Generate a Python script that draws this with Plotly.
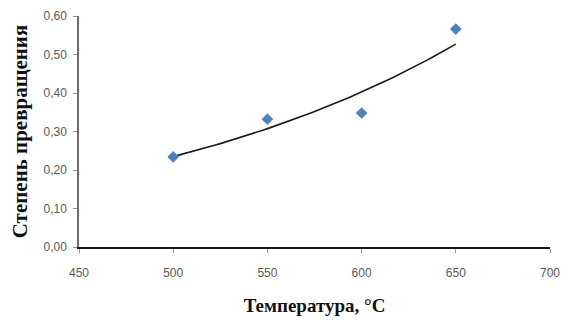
import numpy as np
import plotly.graph_objects as go

temperature = [500, 550, 600, 650]
conversion = [0.234, 0.332, 0.348, 0.566]
x_ticks = [450, 500, 550, 600, 650, 700]
y_ticks = [0.0, 0.1, 0.2, 0.3, 0.4, 0.5, 0.6]

# exponential trendline fitted from data (as in Excel)
b, ln_a = np.polyfit(temperature, np.log(conversion), 1)
xt = np.linspace(min(temperature), max(temperature), 60)
yt = np.exp(ln_a + b * xt)

fig = go.Figure()
fig.add_trace(go.Scatter(x=xt, y=yt, mode="lines",
                         line=dict(color="#1a1a1a", width=1.6), hoverinfo="skip"))
fig.add_trace(go.Scatter(x=temperature, y=conversion, mode="markers",
                         marker=dict(symbol="diamond", size=9, color="#4F81BD")))

# page body has an 8px margin, so the figure is sized 562x312
fig.update_layout(
    width=562, height=312,
    margin=dict(l=71, r=20, t=8, b=73),
    paper_bgcolor="white", plot_bgcolor="white",
    showlegend=False,
    separators=", ",
    font=dict(family="Liberation Sans, Arial, sans-serif", size=12, color="#595959"),
)
fig.update_xaxes(
    range=[450, 700], tickvals=x_ticks, showgrid=False, zeroline=False,
    showline=True, linecolor="#1a1a1a", linewidth=1.5,
    ticks="outside", ticklen=4, tickcolor="#9a9a9a",
    tickfont=dict(size=12, color="#595959"), ticklabelstandoff=10,
    automargin=False,
    title=dict(text="Температура, °C", standoff=20,
               font=dict(family="Liberation Serif, Times New Roman, serif", size=19,
                         color="#111111", weight="bold")),
)
fig.update_yaxes(
    range=[0, 0.6], tickvals=y_ticks, tickformat=".2f", showgrid=False, zeroline=False,
    showline=True, linecolor="#6e6e6e", linewidth=1.5,
    ticks="outside", ticklen=4, tickcolor="#9a9a9a",
    tickfont=dict(size=12, color="#595959"), ticklabelstandoff=4,
    automargin=False,
    title=dict(text="Степень превращения", standoff=10,
               font=dict(family="Liberation Serif, Times New Roman, serif", size=21,
                         color="#111111", weight="bold")),
)
fig.write_html("out.html")
